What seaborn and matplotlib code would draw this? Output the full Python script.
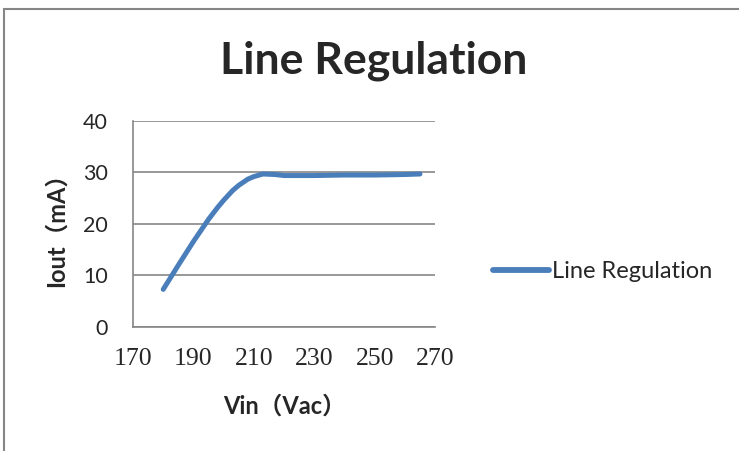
import matplotlib
matplotlib.use('Agg')
import matplotlib.pyplot as plt
import seaborn as sns
import pandas as pd
from matplotlib.patches import Rectangle

# values
vin = [180, 185, 190, 195, 198, 200, 203, 205, 208, 210, 213, 217, 220, 230, 240, 250, 260, 265]
iout = [7.3, 12.0, 16.6, 20.9, 23.2, 24.6, 26.5, 27.5, 28.7, 29.2, 29.7, 29.6, 29.4, 29.4, 29.5, 29.5, 29.6, 29.7]
x_ticks = [170, 190, 210, 230, 250, 270]
y_ticks = [0, 10, 20, 30, 40]
series_name = 'Line Regulation'

df = pd.DataFrame({'Vin': vin, 'Iout': iout, 'series': series_name})

sns.set_style('white')
plt.rcParams['font.family'] = ['Lato', 'Noto Sans CJK SC', 'DejaVu Sans']

fig = plt.figure(figsize=(7.39, 4.51), dpi=100)
ax = fig.add_axes([0.180, 0.275, 0.4087, 0.4568])

sns.lineplot(data=df, x='Vin', y='Iout', hue='series', palette=['#4A7EBB'],
             linewidth=3.6, ax=ax, solid_capstyle='round', solid_joinstyle='round')

ax.set_xlim(170, 270)
ax.set_ylim(0, 40)
ax.set_xticks(x_ticks)
ax.set_yticks(y_ticks)
ax.set_xticklabels([str(t) for t in x_ticks], family='Liberation Serif', fontsize=18.5)
ax.set_yticklabels([str(t) for t in y_ticks], fontsize=15.5)
ax.tick_params(axis='x', length=0, pad=15)
ax.tick_params(axis='y', length=0, pad=18)
ax.yaxis.grid(True, color='#868686', linewidth=1.2)
ax.xaxis.grid(False)
for s in ['top', 'right']:
    ax.spines[s].set_visible(False)
for s in ['left', 'bottom']:
    ax.spines[s].set_color('#868686')
    ax.spines[s].set_linewidth(1.2)

ax.set_xlabel('Vin（Vac）', fontsize=17, fontweight='bold', labelpad=18)
ax.set_ylabel('Iout（mA）', fontsize=17, fontweight='bold', labelpad=11)
fig.text(0.506, 0.865, 'Line Regulation', ha='center', va='center',
         fontsize=32, fontweight='bold')

leg = ax.legend(loc='center left', bbox_to_anchor=(1.16, 0.268), frameon=False,
                fontsize=17, handlelength=2.4, handletextpad=0.12, borderaxespad=0)
for h in leg.get_lines():
    h.set_linewidth(4.2)
    h.set_solid_capstyle('round')

fig.patches.append(Rectangle((4 / 739, -0.1), 1.2, 1 - 9 / 451 + 0.1,
                             transform=fig.transFigure, fill=False,
                             edgecolor='#868686', linewidth=1.5))

fig.savefig('out.png', dpi=100)
